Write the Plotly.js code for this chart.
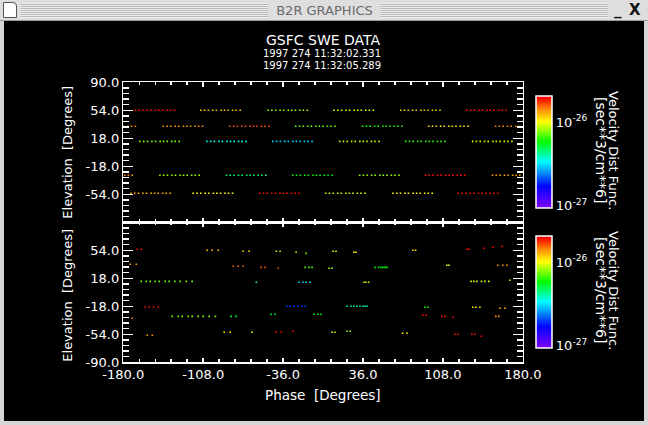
<!DOCTYPE html>
<html>
<head>
<meta charset="utf-8">
<script src="https://cdn.plot.ly/plotly-3.0.1.min.js"></script>
<style>
  html, body { margin:0; padding:0; }
  body { width:648px; height:425px; overflow:hidden; position:relative; background:#d6d6d6; font-family:"DejaVu Sans", sans-serif; }
  #bar { position:absolute; left:0; top:0; width:648px; height:21px; background:#dedede; border-bottom:1px solid #9a9a9a; box-sizing:border-box; }
  #stripes { position:absolute; left:21px; top:3px; width:587px; height:15px;
    background:repeating-linear-gradient(to bottom, #eeeeee 0px, #eeeeee 1px, #b9b9b9 1px, #b9b9b9 2px); }
  #caption { position:absolute; left:268px; top:2px; width:113px; height:17px; background:#dedede;
    color:#6a6a6a; font-size:13px; line-height:17px; text-align:center; font-family:"DejaVu Sans", sans-serif; }
  #icon { position:absolute; left:3px; top:2px; width:14px; height:16px; background:#ffffff; border:1px solid #555; box-sizing:border-box; border-top-right-radius:4px; }
  #minbtn { position:absolute; left:614px; top:1px; font-size:15px; font-weight:bold; color:#111; }
  #closebtn { position:absolute; left:629px; top:1px; font-size:15px; font-weight:bold; color:#111; }
  #black { position:absolute; left:4px; top:21px; width:640px; height:400px; background:#000; }
  #plot { position:absolute; left:0; top:0; width:648px; height:425px; }
</style>
</head>
<body>
<div id="bar"><div id="stripes"></div><div id="caption">B2R GRAPHICS</div><div id="icon"></div><div id="minbtn">_</div><div id="closebtn">X</div></div>
<div id="black"></div>
<div id="plot"></div>
<script>
// ---------------- DATA ----------------
const xTickVals = [-180, -108, -36, 36, 108, 180];
const xTickText = ['-180.0', '-108.0', '-36.0', '36.0', '108.0', '180.0'];
const yTickValsTop = [-54, -18, 18, 54, 90];
const yTickTextTop = ['-54.0', '-18.0', '18.0', '54.0', '90.0'];
const yTickValsBot = [-90, -54, -18, 18, 54];
const yTickTextBot = ['-90.0', '-54.0', '-18.0', '18.0', '54.0'];
const cbTickVals = [-27, -26];
const cbTickText = ['10<sup>-27</sup>', '10<sup>-26</sup>'];

// Top panel: elevation rows, start phase of each sweep group, log10 VDF of each group
const topRowElev = [54.0, 33.4, 14.1, -29.6, -52.7];
const topGroupStart = [
  [-169.2, -110.1, -49.5, 9.9, 70.0, 129.6],
  [-144.0, -84.0, -24.6, 35.7, 95.2, 155.5],
  [-165.0, -104.7, -45.3, 15.0, 74.5, 134.8],
  [-147.0, -87.0, -27.3, 33.0, 92.4, 152.7],
  [-173.1, -117.0, -57.0, 2.4, 63.0, 122.0]
];
const topGroupValue = [
  [-25.72, -25.92, -26.08, -26.01, -25.93, -25.72],
  [-25.86, -25.79, -26.15, -26.22, -25.97, -25.84],
  [-26.12, -26.46, -26.53, -26.06, -26.22, -26.05],
  [-26.09, -26.35, -26.24, -26.10, -25.72, -25.87],
  [-25.90, -26.00, -25.72, -26.05, -25.98, -25.72]
];
// phase offsets (deg) of the samples inside one sweep group
const groupOffsets = [0, 3.4, 6.8, 10.8, 14.0, 18.2, 21.3, 24.6, 28.6, 31.8, 35.4];

// Bottom panel: individual samples
const botPhase = [
  -167.4, -163.8,
  -104.4, -99.9, -94.5,
  -72.0, -66.6,
  -173.7, -168.3,
  -81.0, -76.5, -72.0,
  -163.8, -159.3, -155.7, -151.2, -147.6, -142.2, -138.6, -133.5, -128.7, -123.3, -117.9,
  -160.2, -156.6, -152.8, -148.5,
  -171.9,
  -135.9, -130.5, -126.9, -121.5, -117.9, -112.5, -108.0, -102.6, -97.0,
  -82.8, -78.6,
  -89.1, -83.7, -63.9,
  -158.4, -153.9,
  -42.1, -38.7,
  -24.3,
  -15.3,
  9.0, 11.7,
  27.9, 29.7,
  -55.8, -52.2,
  -40.5,
  -16.2, -12.6, -9.9,
  5.4, 8.1,
  46.8, 50.1, 52.2, 54.0, 55.8, 57.6,
  -60.1, -21.6, -18.0, -15.3, -11.7,
  36.9, 38.7, 41.1,
  -32.7, -29.7, -26.1, -22.8, -18.9, -16.2,
  21.6, 25.2, 27.9, 30.6, 33.3, 36.0, 37.8, 39.6,
  -46.8, -43.2, -8.1, -4.8, -1.8,
  -42.1, -37.8, -27.0,
  8.1, 10.8, 21.6, 24.3,
  81.0, 83.4,
  129.6, 131.4,
  144.9, 153.0, 161.3,
  111.6, 113.4,
  157.5, 162.0, 165.6,
  133.4, 135.9, 138.6, 142.8, 145.8, 149.4,
  168.3,
  91.8, 94.5,
  135.0, 137.7, 141.3,
  159.3, 163.8,
  90.0, 92.7,
  107.1, 109.8, 117.0,
  155.7, 158.4,
  71.7, 75.6,
  118.8, 121.5, 134.1, 136.8, 142.8
];
const botElev = [
  55.3, 55.3,
  54.0, 54.0, 54.0,
  52.7, 52.7,
  36.0, 36.0,
  33.4, 33.4, 33.4,
  14.1, 14.1, 14.1, 14.1, 14.1, 14.1, 14.1, 14.1, 14.1, 14.1, 14.1,
  -18.9, -18.9, -18.9, -18.9,
  -33.4,
  -30.9, -30.9, -30.9, -30.9, -30.9, -30.9, -30.9, -30.9, -30.9,
  -30.9, -30.9,
  -51.4, -51.4, -51.4,
  -55.3, -55.3,
  52.7, 52.7,
  51.4,
  50.1,
  52.7, 52.7,
  51.4, 51.4,
  32.1, 32.1,
  30.9,
  32.1, 32.1, 32.1,
  30.9, 30.9,
  32.1, 32.1, 32.1, 32.1, 32.1, 32.1,
  12.9, 12.9, 12.9, 12.9, 12.9,
  12.9, 12.9, 12.9,
  -18.0, -18.0, -18.0, -18.0, -18.0, -18.0,
  -18.0, -18.0, -18.0, -18.0, -18.0, -18.0, -18.0, -18.0,
  -28.3, -28.3, -28.3, -28.3, -28.3,
  -51.4, -51.4, -50.1,
  -51.4, -51.4, -50.1, -50.1,
  54.0, 54.0,
  55.3, 55.3,
  56.6, 57.9, 59.1,
  34.7, 34.7,
  34.7, 34.7, 34.7,
  14.1, 14.1, 14.1, 14.1, 14.1, 14.1,
  15.4,
  -19.3, -19.3,
  -19.3, -19.3, -19.3,
  -20.6, -20.6,
  -29.6, -29.6,
  -30.9, -30.9, -32.1,
  -30.9, -30.9,
  -52.7, -52.7,
  -54.0, -54.0, -54.0, -54.0, -56.6
];
const botValue = [
  -25.72, -25.72,
  -25.92, -25.92, -25.92,
  -25.96, -25.96,
  -25.87, -25.87,
  -25.80, -25.80, -25.80,
  -26.14, -26.14, -26.14, -26.14, -26.14, -26.14, -26.14, -26.14, -26.14, -26.14, -26.14,
  -25.72, -25.72, -25.72, -25.72,
  -25.86,
  -26.12, -26.12, -26.12, -26.12, -26.12, -26.12, -26.12, -26.12, -26.12,
  -26.30, -26.30,
  -25.99, -25.99, -26.00,
  -25.88, -25.88,
  -26.07, -26.07,
  -26.06,
  -26.12,
  -26.03, -26.03,
  -26.00, -26.00,
  -25.80, -25.80,
  -25.79,
  -26.16, -26.16, -26.16,
  -26.08, -26.08,
  -26.24, -26.24, -26.24, -26.24, -26.24, -26.24,
  -26.45, -26.52, -26.52, -26.52, -26.52,
  -26.06, -26.06, -26.06,
  -26.70, -26.70, -26.70, -26.70, -26.70, -26.70,
  -26.38, -26.38, -26.38, -26.38, -26.38, -26.38, -26.38, -26.38,
  -26.30, -26.30, -26.24, -26.24, -26.24,
  -25.72, -25.72, -25.72,
  -26.06, -26.06, -26.10, -26.10,
  -25.96, -25.96,
  -25.72, -25.72,
  -25.72, -25.72, -25.72,
  -25.99, -25.99,
  -25.86, -25.86, -25.86,
  -26.03, -26.03, -26.03, -26.03, -26.03, -26.03,
  -26.05,
  -26.24, -26.24,
  -25.97, -25.97, -25.97,
  -25.90, -25.90,
  -25.72, -25.72,
  -25.74, -25.74, -25.71,
  -25.86, -25.86,
  -25.97, -25.97,
  -25.73, -25.73, -25.73, -25.73, -25.72
];

// ---------------- BUILD ----------------
const topX = [], topY = [], topC = [];
topRowElev.forEach((el, r) => {
  topGroupStart[r].forEach((s, g) => {
    groupOffsets.forEach(o => {
      let p = s + o;
      if (p > 180) p -= 360;
      topX.push(p); topY.push(el); topC.push(topGroupValue[r][g]);
    });
  });
});

const W = 648, H = 425;
const px = x => x / W;
const py = y => 1 - y / H;
const X0 = 123.3, X1 = 522.8, YT = 82.3, YM = 222.3, YB = 362.3;

const scale = [
  [0.0, '#8000ff'], [0.19, '#0000ff'], [0.415, '#00ffff'], [0.59, '#00ff00'],
  [0.77, '#ffff00'], [0.89, '#ff8000'], [0.97, '#ff1000'], [1.0, '#ff0000']
];
const cmin = -27.03, cmax = -25.69;

function cbar(yc) {
  return {
    x: px(536), xanchor: 'left', xref: 'paper', xpad: 0,
    y: py(yc), yanchor: 'middle', yref: 'paper', ypad: 0,
    len: 112.3 / H, lenmode: 'fraction',
    thickness: 16, thicknessmode: 'pixels',
    outlinecolor: 'white', outlinewidth: 1.5,
    bgcolor: 'rgba(0,0,0,0)', borderwidth: 0,
    tickmode: 'array', tickvals: cbTickVals, ticktext: cbTickText,
    ticks: '', tickfont: { family: 'DejaVu Sans', size: 13, color: 'white' }
  };
}

const mk = (ca) => ({ symbol: 'square', size: 1.6, line: { width: 0 }, coloraxis: ca });

const traces = [
  { type: 'scatter', mode: 'markers', x: topX, y: topY, xaxis: 'x', yaxis: 'y',
    marker: Object.assign(mk('coloraxis'), { color: topC }), hoverinfo: 'skip' },
  { type: 'scatter', mode: 'markers', x: botPhase, y: botElev, xaxis: 'x2', yaxis: 'y2',
    marker: Object.assign(mk('coloraxis2'), { color: botValue }), hoverinfo: 'skip' }
];

function xax(anchor, labels) {
  return {
    domain: [px(X0), px(X1)], anchor: anchor, range: [-180, 180],
    tickmode: 'array', tickvals: xTickVals, ticktext: xTickText, showticklabels: labels,
    ticks: 'inside', ticklen: 4.5, tickwidth: 1.5, tickcolor: 'white',
    showline: true, linecolor: 'white', linewidth: 1.5, mirror: 'allticks',
    showgrid: false, zeroline: false,
    tickfont: { family: 'DejaVu Sans', size: 13, color: 'white' },
    minor: { tickmode: 'linear', tick0: -180, dtick: 14.4, ticks: 'inside', ticklen: 3, tickwidth: 1.5, tickcolor: 'white', showgrid: false }
  };
}
function yax(anchor, dom, vals, text) {
  return {
    domain: dom, anchor: anchor, range: [-90, 90],
    tickmode: 'array', tickvals: vals, ticktext: text,
    ticks: 'inside', ticklen: 10, tickwidth: 1.5, tickcolor: 'white',
    showline: true, linecolor: 'white', linewidth: 1.5, mirror: 'allticks',
    showgrid: false, zeroline: false,
    tickfont: { family: 'DejaVu Sans', size: 13, color: 'white' },
    minor: { tickmode: 'linear', tick0: -90, dtick: 7.2, ticks: 'inside', ticklen: 6, tickwidth: 1.5, tickcolor: 'white', showgrid: false }
  };
}

const ann = (text, x, y, size, angle) => ({
  text: text, x: px(x), y: py(y), xref: 'paper', yref: 'paper',
  xanchor: 'center', yanchor: 'middle', showarrow: false, textangle: angle || 0,
  font: { family: 'DejaVu Sans', size: size, color: 'white' }
});

const layout = {
  width: W, height: H,
  margin: { l: 0, r: 0, t: 0, b: 0 },
  paper_bgcolor: 'rgba(0,0,0,0)', plot_bgcolor: '#000000',
  showlegend: false,
  xaxis: xax('y', false),
  yaxis: yax('x', [py(YM), py(YT)], yTickValsTop, yTickTextTop),
  xaxis2: xax('y2', true),
  yaxis2: yax('x2', [py(YB), py(YM)], yTickValsBot, yTickTextBot),
  coloraxis: { cmin: cmin, cmax: cmax, colorscale: scale, colorbar: cbar(152.2) },
  coloraxis2: { cmin: cmin, cmax: cmax, colorscale: scale, colorbar: cbar(292.2) },
  annotations: [
    ann('GSFC SWE DATA', 323.3, 40, 14),
    ann('1997 274 11:32:02.331', 322, 53.3, 10),
    ann('1997 274 11:32:05.289', 322, 65.2, 10),
    ann('Elevation  [Degrees]', 66.7, 152, 13, -90),
    ann('Elevation  [Degrees]', 66.7, 295, 13, -90),
    ann('Phase  [Degrees]', 323.3, 395, 13.5),
    ann('Velocity Dist Func.', 614, 150, 13, 90),
    ann('[sec**3/cm**6]', 601, 150, 14, 90),
    ann('Velocity Dist Func.', 614, 290, 13, 90),
    ann('[sec**3/cm**6]', 601, 290, 14, 90)
  ]
};

Plotly.newPlot('plot', traces, layout, { displayModeBar: false, staticPlot: true });
</script>
</body>
</html>
